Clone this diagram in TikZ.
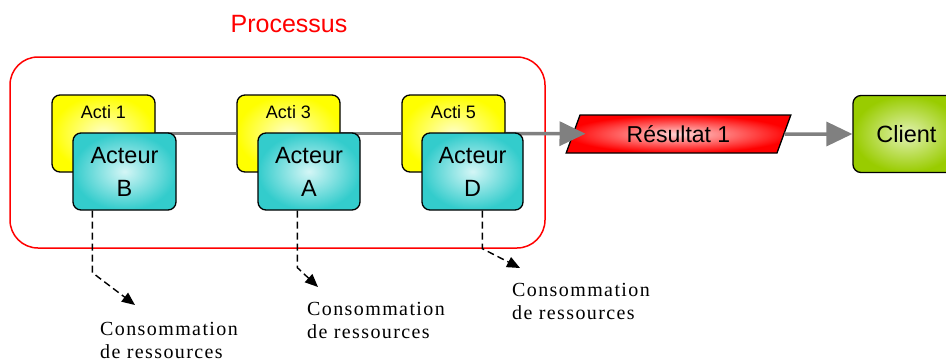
\documentclass[tikz,border=0pt]{standalone}
\usepackage{fontspec}
\setmainfont{Liberation Sans}
\newfontfamily\labelfont[LetterSpace=7]{Liberation Serif}
\usetikzlibrary{arrows.meta,shapes.geometric,backgrounds}
\definecolor{flowgray}{HTML}{808080}
\definecolor{actiout}{HTML}{FFFF00}
\definecolor{actiin}{HTML}{FFFFC8}
\definecolor{teamout}{HTML}{33CCCC}
\definecolor{teamin}{HTML}{D4F6F6}
\definecolor{resout}{HTML}{FF0000}
\definecolor{resin}{HTML}{FFD4D4}
\definecolor{cliout}{HTML}{99CC00}
\definecolor{cliin}{HTML}{E2F2B4}
\tikzset{
  box/.style={draw=black, line width=1.3pt, rounded corners=8pt,
    minimum width=103pt, minimum height=77pt, inner sep=0pt},
  actibox/.style={box, inner color=actiin, outer color=actiout},
  actilabel/.style={anchor=north, yshift=-10.5pt, inner sep=0pt,
    font=\fontsize{18}{20}\selectfont},
  teambox/.style={box, inner color=teamin, outer color=teamout, align=center,
    font=\fontsize{23.5}{33}\selectfont},
  resbox/.style={draw=black, line width=1.3pt, trapezium, trapezium stretches=true,
    trapezium left angle=67, trapezium right angle=113,
    minimum width=225pt, minimum height=38pt, inner sep=0pt,
    inner color=resin, outer color=resout, font=\fontsize{23}{28}\selectfont},
  clibox/.style={box, minimum width=107pt, inner color=cliin, outer color=cliout,
    font=\fontsize{23.5}{28}\selectfont},
  frame/.style={draw=red, line width=1.5pt, rounded corners=28pt, inner sep=0pt},
  flow/.style={draw=flowgray, line width=3.5pt},
  flowarrow/.style={flow, -{Triangle[length=26pt,width=24pt]}},
  dasharrow/.style={draw=black, line width=1.4pt, dash pattern=on 7pt off 4pt,
    -{Triangle[length=13pt,width=11pt]}},
  lbl/.style={anchor=north west, inner sep=0pt, align=left,
    font=\labelfont\fontsize{20}{23}\selectfont}
}
\begin{document}
\begin{tikzpicture}[x=1pt,y=-1pt]
\useasboundingbox (0,0) rectangle (946,360);
% title and process frame
\node[text=red, font=\fontsize{25}{30}\selectfont] (title) at (289,24) {Processus};
\begin{scope}[on background layer]
\node[frame, minimum width=535pt, minimum height=191pt] (proc) at (277.5,152.5) {};
\end{scope}
% activities
\node[actibox, label={[actilabel]north:Acti 1}] (a1) at (103.5,133.5) {};
\node[actibox, label={[actilabel]north:Acti 3}] (a3) at (288.5,133.5) {};
\node[actibox, label={[actilabel]north:Acti 5}] (a5) at (453.5,133.5) {};
% result and client
\node[resbox] (res) at (678.5,134) {Résultat 1};
\node[clibox] (cli) at (906.5,134) {Client};
% flow
\draw[flow] (a1.east) -- (a3.west);
\draw[flow] (a3.east) -- (a5.west);
\draw[flowarrow, shorten >=-13pt] (a5.east) -- (res);
\draw[flowarrow] (res) -- (cli);
% actors
\node[teambox] (ab) at (124.5,171.5) {Acteur\\B};
\node[teambox, minimum width=102pt] (aa) at (309,171.5) {Acteur\\A};
\node[teambox, minimum width=101pt] (ad) at (472.5,171.5) {Acteur\\D};
% resource labels
\node[lbl] (lB) at (100,322.5) {Consommation\\de ressources};
\node[lbl] (lA) at (307,302.5) {Consommation\\de ressources};
\node[lbl] (lD) at (512,283.5) {Consommation\\de ressources};
\coordinate (tB) at (135,305);
\coordinate (tA) at (318,287);
\coordinate (tD) at (520,268);
\draw[dasharrow] ([xshift=20pt]ab.south west) -- ++(0,62) -- (tB);
\draw[dasharrow] ([xshift=40pt]aa.south west) -- ++(0,57) -- (tA);
\draw[dasharrow] ([xshift=61pt]ad.south west) -- ++(0,38) -- (tD);
\end{tikzpicture}
\end{document}
